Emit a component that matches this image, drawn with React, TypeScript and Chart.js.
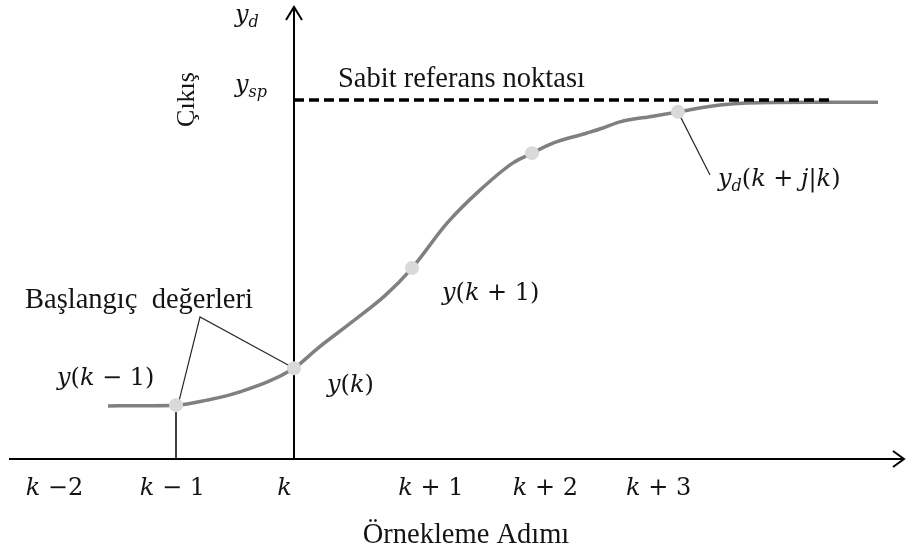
import React, { useEffect, useRef } from 'react';
import { Chart, registerables } from 'chart.js';

Chart.register(...registerables);

// Output curve y_d (x: sample step relative to k, y: output relative to set-point)
const curveX = [-1.576, -0.992, -0.737, -0.458, 0, 0.203, 0.492, 0.771, 1.0, 1.297, 1.576, 1.856, 2.017, 2.195, 2.483, 2.619, 2.763, 3.042, 3.254, 3.61, 3.839, 4.398, 4.949];
const curveY = [0.148, 0.15, 0.164, 0.187, 0.253, 0.309, 0.382, 0.455, 0.532, 0.657, 0.749, 0.825, 0.852, 0.88, 0.908, 0.922, 0.939, 0.955, 0.967, 0.986, 0.992, 0.994, 0.994];

// Sampled points on the curve
const sampleX = [-1, 0, 1.0, 2.017, 3.254];
const sampleY = [0.15, 0.253, 0.532, 0.852, 0.967];

// Set-point reference line
const setpointY = 1;
const setpointEndX = 4.57;

// Axis tick labels and their positions (steps)
const tickLabels = ['k −2', 'k − 1', 'k', 'k + 1', 'k + 2', 'k + 3'];
const tickX = [-2.03, -1.03, -0.08, 1.16, 2.13, 3.09];

const xMin = -2.4915;
const xMax = 5.1864;
const yMin = -0.2646;
const yMax = 1.2786;

const TEXT = '#141414';
const MATH = '"DejaVu Serif", serif';
const SERIF = '"Liberation Serif", "Times New Roman", serif';

type Seg = { t: string; it?: boolean; sub?: boolean };

function parseMath(s: string): Seg[] {
  const out: Seg[] = [];
  for (const ch of s) {
    if (/[a-z]/.test(ch)) out.push({ t: ch, it: true });
    else out.push({ t: ch });
  }
  return out;
}

function segFont(s: Seg, size: number) {
  const sz = s.sub ? Math.round(size * 0.68) : size;
  return `${s.it ? 'italic ' : ''}${sz}px ${MATH}`;
}

function richWidth(ctx: CanvasRenderingContext2D, segs: Seg[], size: number) {
  let w = 0;
  for (const s of segs) {
    ctx.font = segFont(s, size);
    w += ctx.measureText(s.t).width;
  }
  return w;
}

function drawRich(ctx: CanvasRenderingContext2D, segs: Seg[], x: number, y: number, size: number, align: 'left' | 'center' = 'left') {
  let cx = x;
  if (align === 'center') cx = x - richWidth(ctx, segs, size) / 2;
  ctx.textAlign = 'left';
  ctx.textBaseline = 'alphabetic';
  for (const s of segs) {
    ctx.font = segFont(s, size);
    ctx.fillText(s.t, cx, s.sub ? y + 5 : y);
    cx += ctx.measureText(s.t).width;
  }
}

const diagramPlugin = {
  id: 'diagram',
  beforeDatasetsDraw(chart: any) {
    const ctx: CanvasRenderingContext2D = chart.ctx;
    const xs = chart.scales.x;
    const ys = chart.scales.y;
    const area = chart.chartArea;
    const X = (v: number) => xs.getPixelForValue(v);
    const Y = (v: number) => ys.getPixelForValue(v);
    const ox = X(0);
    const oy = Y(0);
    ctx.save();
    ctx.strokeStyle = '#000';
    ctx.lineWidth = 2;
    ctx.lineCap = 'butt';
    // x axis
    const xr = area.right - 2;
    ctx.beginPath();
    ctx.moveTo(area.left + 9, oy);
    ctx.lineTo(xr, oy);
    ctx.stroke();
    ctx.beginPath();
    ctx.moveTo(xr - 11, oy - 8);
    ctx.lineTo(xr, oy);
    ctx.lineTo(xr - 11, oy + 8);
    ctx.stroke();
    // y axis
    const yt = area.top + 7;
    ctx.beginPath();
    ctx.moveTo(ox, oy);
    ctx.lineTo(ox, yt);
    ctx.stroke();
    ctx.beginPath();
    ctx.moveTo(ox - 8, yt + 13);
    ctx.lineTo(ox, yt);
    ctx.lineTo(ox + 8, yt + 13);
    ctx.stroke();
    // k-1 tick
    ctx.lineWidth = 1.5;
    ctx.beginPath();
    ctx.moveTo(X(sampleX[0]), oy);
    ctx.lineTo(X(sampleX[0]), Y(sampleY[0]));
    ctx.stroke();
    // leader lines
    ctx.strokeStyle = '#2a2a2a';
    ctx.lineWidth = 1.2;
    ctx.beginPath();
    ctx.moveTo(X(sampleX[0]) + 2, Y(sampleY[0]));
    ctx.lineTo(200, 317);
    ctx.lineTo(X(sampleX[1]), Y(sampleY[1]));
    ctx.stroke();
    ctx.beginPath();
    ctx.moveTo(X(sampleX[4]), Y(sampleY[4]));
    ctx.lineTo(710, 175);
    ctx.stroke();
    ctx.restore();
  },
  afterDraw(chart: any) {
    const ctx: CanvasRenderingContext2D = chart.ctx;
    const xs = chart.scales.x;
    const ys = chart.scales.y;
    const oy = ys.getPixelForValue(0);
    ctx.save();
    ctx.fillStyle = TEXT;
    // tick labels
    tickLabels.forEach((lab, i) => {
      drawRich(ctx, parseMath(lab), xs.getPixelForValue(tickX[i]), oy + 36, 24, 'center');
    });
    // axis titles
    ctx.font = `28.5px ${SERIF}`;
    ctx.textAlign = 'center';
    ctx.textBaseline = 'alphabetic';
    ctx.fillText('Örnekleme Adımı', 466, 543);
    ctx.save();
    ctx.translate(194, 99.5);
    ctx.rotate(-Math.PI / 2);
    ctx.font = `26px ${SERIF}`;
    ctx.fillText('Çıkış', 0, 0);
    ctx.restore();
    // annotations
    ctx.textAlign = 'left';
    ctx.font = `28.5px ${SERIF}`;
    ctx.fillText('Sabit referans noktası', 338, 87);
    ctx.fillText('Başlangıç  değerleri', 25, 308);
    drawRich(ctx, [{ t: 'y', it: true }, { t: 'd', it: true, sub: true }], 235, 22, 24);
    drawRich(ctx, [{ t: 'y', it: true }, { t: 'sp', it: true, sub: true }], 235, 92, 24);
    drawRich(ctx, parseMath('y(k − 1)'), 57, 385, 24);
    drawRich(ctx, parseMath('y(k)'), 327, 392, 24);
    drawRich(ctx, parseMath('y(k + 1)'), 442, 300, 24);
    drawRich(ctx, [{ t: 'y', it: true }, { t: 'd', it: true, sub: true }, ...parseMath('(k + j|k)')], 718, 186, 24);
    ctx.restore();
  },
};

export default function App() {
  const ref = useRef<HTMLCanvasElement | null>(null);
  useEffect(() => {
    if (!ref.current) return;
    const chart = new Chart(ref.current, {
      type: 'line',
      data: {
        datasets: [
          {
            label: 'samples',
            data: sampleX.map((x, i) => ({ x, y: sampleY[i] })),
            showLine: false,
            pointRadius: 7,
            pointBackgroundColor: '#d9d9d9',
            pointBorderWidth: 0,
            order: 0,
          },
          {
            label: 'setpoint',
            data: [{ x: 0, y: setpointY }, { x: setpointEndX, y: setpointY }],
            borderColor: '#000',
            borderWidth: 3.5,
            borderDash: [10, 5],
            pointRadius: 0,
            order: 1,
          },
          {
            label: 'output',
            data: curveX.map((x, i) => ({ x, y: curveY[i] })),
            borderColor: '#808080',
            borderWidth: 3.5,
            cubicInterpolationMode: 'monotone',
            pointRadius: 0,
            order: 2,
          },
        ],
      },
      options: {
        responsive: false,
        animation: false,
        devicePixelRatio: 1,
        events: [],
        layout: { padding: 0, autoPadding: false },
        scales: {
          x: { type: 'linear', display: false, min: xMin, max: xMax },
          y: { type: 'linear', display: false, min: yMin, max: yMax },
        },
        plugins: { legend: { display: false }, tooltip: { enabled: false } },
      },
      plugins: [diagramPlugin],
    } as any);
    return () => chart.destroy();
  }, []);
  return (
    <div style={{ position: 'fixed', left: 0, top: 0, width: 906, height: 554, background: '#fff' }}>
      <canvas ref={ref} width={906} height={554} style={{ display: 'block' }} />
    </div>
  );
}
